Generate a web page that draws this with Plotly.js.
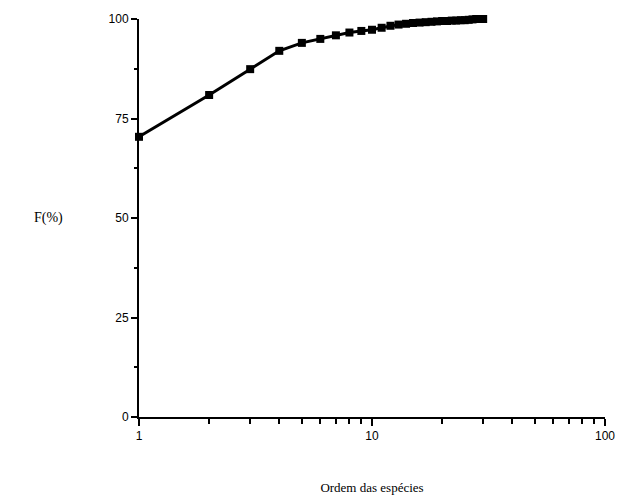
<!DOCTYPE html>
<html>
<head>
<meta charset="utf-8">
<script src="https://cdn.plot.ly/plotly-3.0.1.min.js"></script>
<style>html,body{margin:0;padding:0;background:#fff;}#chart{width:620px;height:498px;}</style>
</head>
<body>
<div id="chart"></div>
<script>
// Ordem das espécies (rank) and cumulative frequency F(%)
const ranks = [1,2,3,4,5,6,7,8,9,10,11,12,13,14,15,16,17,18,19,20,21,22,23,24,25,26,27,28,29,30];
const freqCum = [70.4,80.9,87.4,92.0,94.0,95.0,95.9,96.6,97.0,97.3,97.8,98.3,98.6,98.8,99.0,99.1,99.2,99.3,99.4,99.5,99.5,99.6,99.6,99.7,99.7,99.8,99.9,100,100,100];
const xTickVals = [1,10,100];
const xTickText = ['1','10','100'];
const xMinorVals = [2,3,4,5,6,7,8,9,20,30,40,50,60,70,80,90];
const yTickVals = [0,25,50,75,100];
const yTickText = ['0','25','50','75','100'];
const yMinorVals = [12.5,37.5,62.5,87.5];

const trace = {
  x: ranks, y: freqCum, type: 'scatter', mode: 'lines+markers',
  line: {color: '#000', width: 3},
  marker: {symbol: 'square', size: 8, color: '#000'},
  cliponaxis: false, showlegend: false, hoverinfo: 'skip'
};

const layout = {
  width: 620, height: 498,
  margin: {l: 139, r: 15, t: 19, b: 81},
  paper_bgcolor: '#fff', plot_bgcolor: '#fff',
  font: {family: 'Liberation Sans, Arial, sans-serif', color: '#000', size: 12},
  xaxis: {
    type: 'log', range: [0, 2],
    tickmode: 'array', tickvals: xTickVals, ticktext: xTickText,
    ticks: 'outside', ticklen: 7, tickwidth: 2, tickcolor: '#000',
    minor: {tickmode: 'array', tickvals: xMinorVals, ticks: 'outside', ticklen: 5, tickwidth: 2, tickcolor: '#000', showgrid: false},
    showline: true, linecolor: '#000', linewidth: 2,
    showgrid: false, zeroline: false,
    tickfont: {size: 12, family: 'Liberation Sans, Arial, sans-serif'},
    title: {text: 'Ordem das espécies', font: {family: 'Liberation Serif, Times New Roman, serif', size: 13}, standoff: 40}
  },
  yaxis: {
    range: [0, 100],
    tickmode: 'array', tickvals: yTickVals, ticktext: yTickText,
    ticks: 'outside', ticklen: 6, tickwidth: 2, tickcolor: '#000',
    minor: {tickmode: 'array', tickvals: yMinorVals, ticks: 'outside', ticklen: 3, tickwidth: 2, tickcolor: '#000', showgrid: false},
    showline: true, linecolor: '#000', linewidth: 2,
    showgrid: false, zeroline: false,
    tickfont: {size: 12, family: 'Liberation Sans, Arial, sans-serif'}
  },
  annotations: [{
    text: 'F(%)', xref: 'paper', yref: 'paper', x: -0.195, y: 0.5,
    xanchor: 'center', yanchor: 'middle', showarrow: false,
    font: {family: 'Liberation Serif, Times New Roman, serif', size: 14, color: '#000'}
  }]
};

Plotly.newPlot('chart', [trace], layout, {displayModeBar: false, staticPlot: true});
</script>
</body>
</html>
